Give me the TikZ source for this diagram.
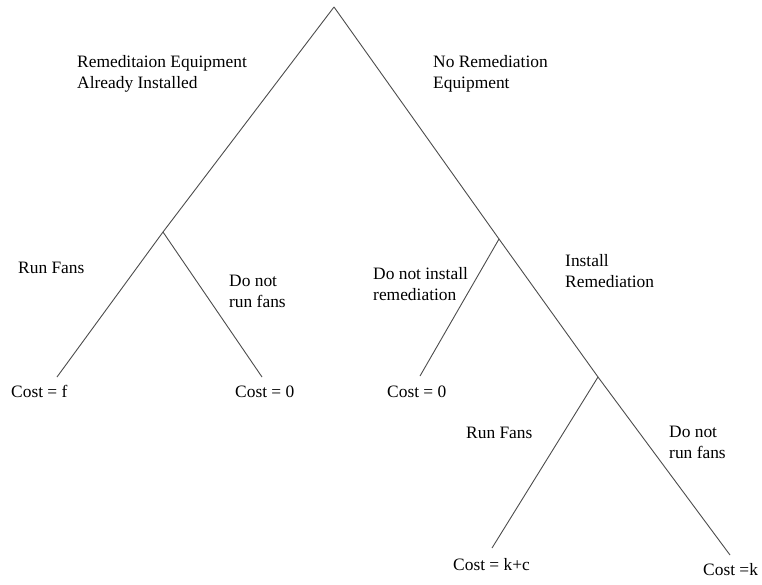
\documentclass[tikz,border=0pt]{standalone}
\usepackage{fontspec}
\setmainfont{Liberation Serif}
\newfontfamily\tnrfont{Liberation Serif}
\begin{document}
\begin{tikzpicture}[x=1pt,y=-1pt,
  edge/.style={draw=black!70,line width=0.9pt},
  lbl/.style={anchor=base west,inner sep=0pt,font=\tnrfont\fontsize{17.4}{21}\selectfont,align=left}]
\useasboundingbox (0,0) rectangle (762,584);
% junctions
\coordinate (root) at (334,7);
\coordinate (L) at (163,232);
\coordinate (R) at (499,239);
\coordinate (RR) at (598,377);
\coordinate (LL) at (57,377);
\coordinate (LR) at (262,377);
\coordinate (RL) at (420,376);
\coordinate (RRL) at (492,548);
\coordinate (RRR) at (730,555);
% edges
\draw[edge] (root) -- (L);
\draw[edge] (root) -- (R);
\draw[edge] (L) -- (LL);
\draw[edge] (L) -- (LR);
\draw[edge] (R) -- (RL);
\draw[edge] (R) -- (RR);
\draw[edge] (RR) -- (RRL);
\draw[edge] (RR) -- (RRR);
% labels (base = last line)
\node[lbl] (t1) at (77,88) {Remeditaion Equipment\\Already Installed};
\node[lbl] (t2) at (433,88) {No Remediation\\Equipment};
\node[lbl] (t3) at (18,273) {Run Fans};
\node[lbl] (t4) at (229,307) {Do not\\run fans};
\node[lbl] (t5) at (373,300) {Do not install\\remediation};
\node[lbl] (t6) at (565,287) {Install\\Remediation};
\node[lbl] (c1) at (11,397) {Cost = f};
\node[lbl] (c2) at (235,397) {Cost = 0};
\node[lbl] (c3) at (387,397) {Cost = 0};
\node[lbl] (t7) at (466,438) {Run Fans};
\node[lbl] (t8) at (669,458) {Do not\\run fans};
\node[lbl] (c4) at (453,570) {Cost = k+c};
\node[lbl] (c5) at (703,575) {Cost =k};
\end{tikzpicture}
\end{document}
